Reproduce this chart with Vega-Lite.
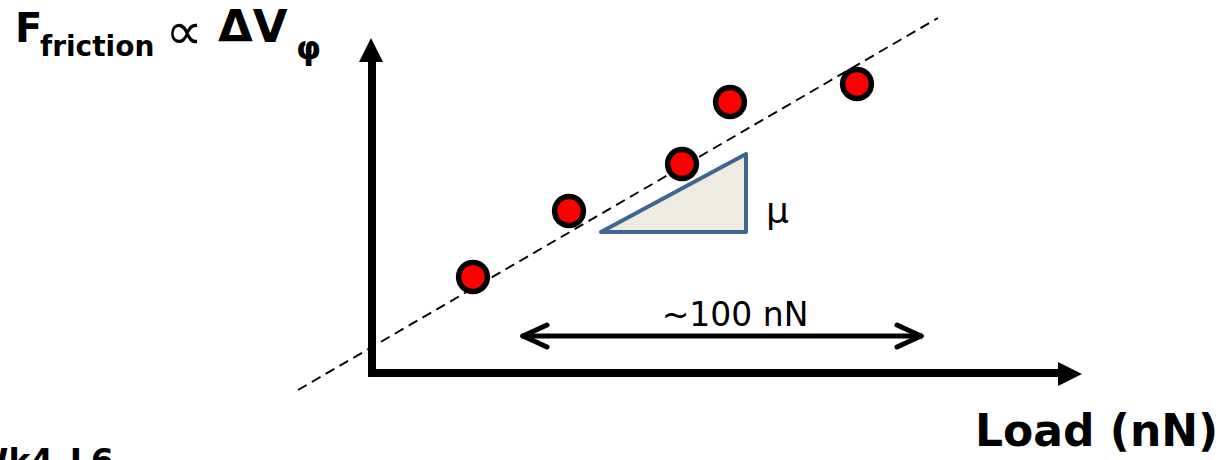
{
  "$schema": "https://vega.github.io/schema/vega-lite/v6.json",
  "width": 1226,
  "height": 460,
  "padding": 0,
  "autosize": {"type": "none"},
  "background": "white",
  "config": {"view": {"stroke": null}},
  "datasets": {
    "trend": [{"x": -18.5, "y": -4.25}, {"x": 141.5, "y": 88.75}],
    "slope": [{"x": 57.25, "y": 35.25, "y2": 35.25}, {"x": 93.5, "y": 54.75, "y2": 35.25}],
    "axes": [{"x": 0, "y": 0, "x2": 0, "y2": 77.75}, {"x": 0, "y": 0, "x2": 171.5, "y2": 0}],
    "heads": [{"x": -0.25, "y": 80.75, "dir": "up"}, {"x": 174.5, "y": -0.25, "dir": "right"}],
    "span": [
      {"x": 37.75, "y": 9.25, "x2": 137.25, "y2": 9.25},
      {"x": 37.75, "y": 9.25, "x2": 43.75, "y2": 12},
      {"x": 37.75, "y": 9.25, "x2": 43.75, "y2": 6.5},
      {"x": 137.25, "y": 9.25, "x2": 131.25, "y2": 12},
      {"x": 137.25, "y": 9.25, "x2": 131.25, "y2": 6.5}
    ],
    "measurements": [
      {"x": 25.25, "y": 24},
      {"x": 49.25, "y": 40.5},
      {"x": 77.5, "y": 52.25},
      {"x": 89.5, "y": 67.75},
      {"x": 121.25, "y": 72.25}
    ]
  },
  "encoding": {
    "x": {"field": "x", "type": "quantitative", "scale": {"domain": [-93, 213.5], "nice": false, "zero": false}, "axis": null},
    "y": {"field": "y", "type": "quantitative", "scale": {"domain": [-21.75, 93.25], "nice": false, "zero": false}, "axis": null}
  },
  "layer": [
    {
      "data": {"name": "trend"},
      "mark": {"type": "line", "stroke": "black", "strokeWidth": 1.9, "strokeDash": [10, 6]}
    },
    {
      "data": {"name": "slope"},
      "mark": {"type": "area", "fill": "#EEECE1", "stroke": "#3F6592", "strokeWidth": 4, "strokeJoin": "round", "opacity": 1},
      "encoding": {"y2": {"field": "y2"}}
    },
    {
      "data": {"name": "axes"},
      "mark": {"type": "rule", "stroke": "black", "strokeWidth": 8, "strokeCap": "square"},
      "encoding": {"x2": {"field": "x2"}, "y2": {"field": "y2"}}
    },
    {
      "data": {"name": "heads"},
      "mark": {"type": "point", "filled": true, "fill": "black", "fillOpacity": 1, "strokeWidth": 0, "size": 576},
      "encoding": {
        "shape": {"field": "dir", "type": "nominal", "legend": null,
          "scale": {"domain": ["up", "right"], "range": ["M0,-1L1,1L-1,1Z", "M-1,-1L1,0L-1,1Z"]}}
      }
    },
    {
      "data": {"name": "span"},
      "mark": {"type": "rule", "stroke": "black", "strokeWidth": 5, "strokeCap": "round"},
      "encoding": {"x2": {"field": "x2"}, "y2": {"field": "y2"}}
    },
    {
      "data": {"name": "measurements"},
      "mark": {"type": "point", "shape": "circle", "filled": true, "fill": "#FF0000", "fillOpacity": 1, "stroke": "black", "strokeWidth": 5.5, "strokeOpacity": 1, "size": 830}
    },
    {
      "data": {"values": [{"x": -89.25, "y": 82.75, "t": "F"}]},
      "mark": {"type": "text", "align": "left", "baseline": "alphabetic", "font": "DejaVu Sans", "fontWeight": "bold", "fontSize": 40, "fill": "black"},
      "encoding": {"text": {"field": "t"}}
    },
    {
      "data": {"values": [{"x": -38.5, "y": 82.75, "t": "ΔV"}]},
      "mark": {"type": "text", "align": "left", "baseline": "alphabetic", "font": "DejaVu Sans", "fontWeight": "bold", "fontSize": 45, "fill": "black"},
      "encoding": {"text": {"field": "t"}}
    },
    {
      "data": {"values": [{"x": -83, "y": 79.25, "t": "friction"}]},
      "mark": {"type": "text", "align": "left", "baseline": "alphabetic", "font": "DejaVu Sans", "fontWeight": "bold", "fontSize": 28, "fill": "black"},
      "encoding": {"text": {"field": "t"}}
    },
    {
      "data": {"values": [{"x": -19, "y": 78.5, "t": "φ"}]},
      "mark": {"type": "text", "align": "left", "baseline": "alphabetic", "font": "DejaVu Sans", "fontWeight": "bold", "fontSize": 32, "fill": "black"},
      "encoding": {"text": {"field": "t"}}
    },
    {
      "data": {"values": [{"x": -47, "y": 81, "t": "∝"}]},
      "mark": {"type": "text", "align": "center", "baseline": "alphabetic", "font": "DejaVu Sans", "fontSize": 52, "fill": "black"},
      "encoding": {"text": {"field": "t"}}
    },
    {
      "data": {"values": [{"x": 98.5, "y": 37.5, "t": "μ"}]},
      "mark": {"type": "text", "align": "left", "baseline": "alphabetic", "font": "DejaVu Sans", "fontSize": 36, "fill": "black"},
      "encoding": {"text": {"field": "t"}}
    },
    {
      "data": {"values": [{"x": 90.75, "y": 11.75, "t": "~100 nN"}]},
      "mark": {"type": "text", "align": "center", "baseline": "alphabetic", "font": "DejaVu Sans", "fontSize": 33, "fill": "black"},
      "encoding": {"text": {"field": "t"}}
    },
    {
      "data": {"values": [{"x": 150.75, "y": -18.25, "t": "Load (nN)"}]},
      "mark": {"type": "text", "align": "left", "baseline": "alphabetic", "font": "DejaVu Sans", "fontWeight": "bold", "fontSize": 44, "fill": "black"},
      "encoding": {"text": {"field": "t"}}
    },
    {
      "data": {"values": [{"x": -100, "y": -25, "t": "Wk4_L6"}]},
      "mark": {"type": "text", "align": "left", "baseline": "alphabetic", "font": "DejaVu Sans", "fontWeight": "bold", "fontSize": 33, "fill": "black"},
      "encoding": {"text": {"field": "t"}}
    }
  ]
}
